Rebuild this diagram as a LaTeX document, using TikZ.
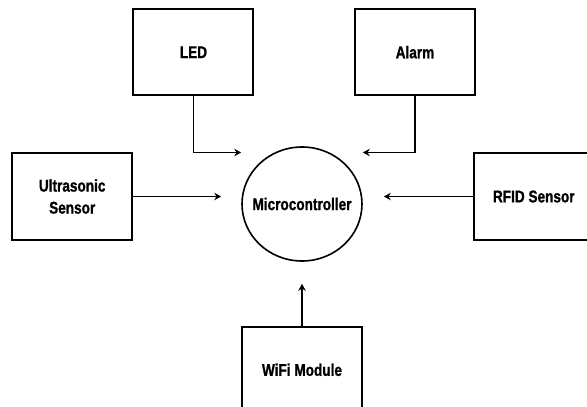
\documentclass[tikz,border=0pt]{standalone}
\usepackage{fontspec}
\setmainfont{Liberation Sans}[FakeStretch=0.8, FakeBold=1]
\usetikzlibrary{arrows.meta, positioning, shapes.geometric, calc}
\tikzset{
    >=Stealth,
    font=\bfseries\fontsize{17}{22}\selectfont,
    blk_box/.style={
        rectangle,
        draw=black,
        line width=2pt,
        minimum width=120pt,
        minimum height=86pt,
        inner sep=0pt,
        align=center
    },
    blk_mcu/.style={
        ellipse,
        draw=black,
        line width=1.6pt,
        minimum width=120pt,
        minimum height=114pt,
        inner xsep=-12pt,
        inner ysep=0pt,
        align=center
    },
    blk_arrow/.style={
        -{Stealth[length=7pt, width=7.5pt]},
        line width=1.1pt
    }
}

\begin{document}
\begin{tikzpicture}

\useasboundingbox (-302pt,-203pt) rectangle (285pt,204pt);

% --- Controller ---
\node[blk_mcu] (mcu) at (0,0) {Microcontroller};

% --- Outputs ---
\node[blk_box, above=50pt of mcu, xshift=-108.5pt] (led) {LED};
\node[blk_box, above=50pt of mcu, xshift=113pt] (alarm) {Alarm};

% --- Inputs ---
\node[blk_box, left=108pt of mcu, yshift=7.5pt] (ultra) {Ultrasonic\\Sensor};
\node[blk_box, right=110pt of mcu, yshift=7.5pt] (rfid) {RFID Sensor};
\node[blk_box, below=64pt of mcu] (wifi) {WiFi Module};

% --- Edges ---
\draw[blk_arrow] (led.south) |- (mcu.west |- ultra.north);
\draw[blk_arrow] (alarm.south) |- (mcu.east |- rfid.north);
\draw[blk_arrow, shorten >=20pt] (ultra.east) -- (ultra.east -| mcu.west);
\draw[blk_arrow, shorten >=21pt] (rfid.west) -- (rfid.west -| mcu.east);
\draw[blk_arrow, shorten >=22pt] (wifi.north) -- (mcu.south);

\end{tikzpicture}
\end{document}
